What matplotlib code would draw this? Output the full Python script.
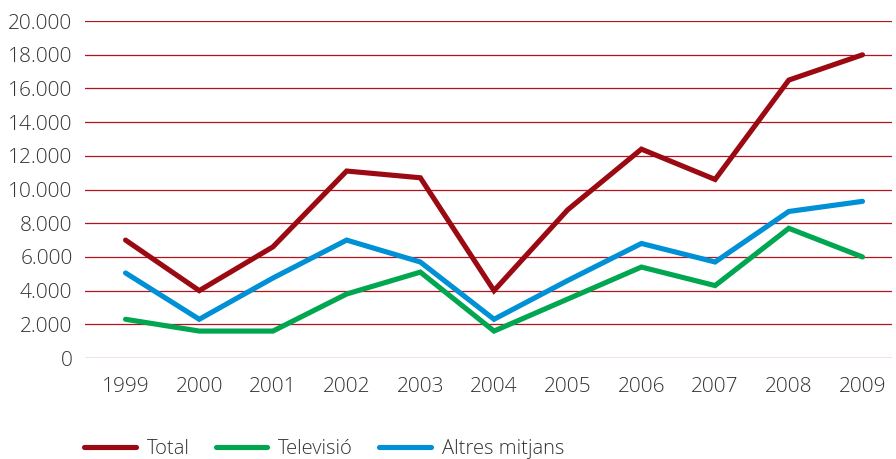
import numpy as np
import matplotlib.pyplot as plt
from matplotlib.ticker import FuncFormatter

anys = ['1999', '2000', '2001', '2002', '2003', '2004', '2005', '2006', '2007', '2008', '2009']
total = [7000, 4000, 6600, 11100, 10700, 4000, 8800, 12400, 10600, 16500, 18000]
televisio = [2300, 1600, 1600, 3800, 5100, 1600, 3500, 5400, 4300, 7700, 6000]
altres = [5050, 2300, 4750, 7000, 5700, 2300, 4600, 6800, 5700, 8700, 9300]

plt.rcParams['font.family'] = ['Open Sans', 'DejaVu Sans']
plt.rcParams['font.weight'] = 'light'

fig = plt.figure(figsize=(8.96, 4.59), dpi=100)
ax = fig.add_axes([0.0949, 0.22, 0.9006, 0.734])

x = np.arange(len(anys))
ax.plot(x, total, color='#9b0a12', lw=3.7, solid_capstyle='round', solid_joinstyle='miter', label='Total')
ax.plot(x, televisio, color='#00a650', lw=3.7, solid_capstyle='round', solid_joinstyle='miter', label='Televisió')
ax.plot(x, altres, color='#0090d6', lw=3.7, solid_capstyle='round', solid_joinstyle='miter', label='Altres mitjans')

ax.set_ylim(0, 20000)
ax.set_xlim(-0.55, 10.4)
ax.set_yticks(range(0, 20001, 2000))
ax.yaxis.set_major_formatter(FuncFormatter(lambda v, p: f'{int(v):,}'.replace(',', '.')))
ax.set_xticks(x)
ax.set_xticklabels(anys)

# graella horitzontal vermella, sense eixos
ax.grid(axis='y', color='#b3121f', lw=0.9)
ax.set_axisbelow(True)
for s in ax.spines.values():
    s.set_visible(False)
ax.tick_params(axis='both', length=0, labelsize=15, labelcolor='#333333')
ax.tick_params(axis='x', pad=14)
ax.tick_params(axis='y', pad=9)

fig.legend(loc='center left', bbox_to_anchor=(0.074, 0.021), ncol=3, frameon=False,
           fontsize=14.5, handlelength=2.55, handletextpad=0.55, columnspacing=1.3,
           labelcolor='#333333')

fig.savefig('out.png', dpi=100)
